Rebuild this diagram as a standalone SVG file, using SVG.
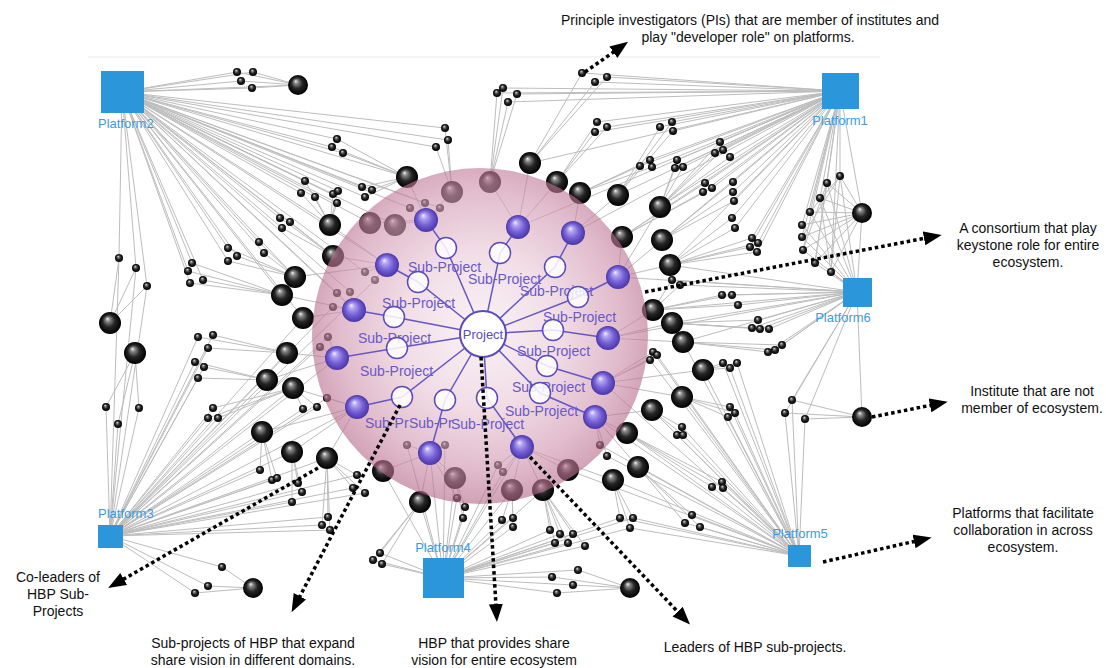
<svg xmlns="http://www.w3.org/2000/svg" width="1106" height="668" viewBox="0 0 1106 668">
<style>
#connectors path{stroke:#bdbdbd;stroke-width:1;fill:none}
#spokes path{stroke:#6657c4;stroke-width:1.5;fill:none}
.bk{fill:url(#gk)}
.pi{fill:url(#gk)}
.ld{fill:url(#gp)}
.sp{fill:#fff;fill-opacity:.85;stroke:#5a4cbc;stroke-width:1.5}
.spt{font-family:"Liberation Sans",Arial,sans-serif;font-size:14px;fill:#6a58c8}
.pl{fill:#2b96d9}
.plt{font-family:"Liberation Sans",Arial,sans-serif;font-size:13px;fill:#3d9be0}
.ann{stroke:#000;stroke-width:3.5;stroke-dasharray:3.5 3;fill:none;marker-end:url(#ah)}
.at{font-family:"Liberation Sans",Arial,sans-serif;font-size:14px;fill:#111;text-anchor:middle}
</style>
<defs>
<radialGradient id="gk" cx="0.5" cy="0.5" r="0.5" fx="0.38" fy="0.3">
<stop offset="0" stop-color="#f2f2f2"/><stop offset="0.2" stop-color="#8a8a8a"/><stop offset="0.55" stop-color="#262626"/><stop offset="1" stop-color="#000"/>
</radialGradient>
<radialGradient id="gp" cx="0.5" cy="0.5" r="0.5" fx="0.38" fy="0.3">
<stop offset="0" stop-color="#f4f0ff"/><stop offset="0.22" stop-color="#b3a6f0"/><stop offset="0.6" stop-color="#7560d6"/><stop offset="1" stop-color="#4a36a8"/>
</radialGradient>
<radialGradient id="gs" cx="0.5" cy="0.48" r="0.52">
<stop offset="0" stop-color="#f6eaf0"/><stop offset="0.45" stop-color="#e9c8d7"/><stop offset="0.8" stop-color="#cf93ad"/><stop offset="1" stop-color="#b56888"/>
</radialGradient>
<marker id="ah" markerUnits="userSpaceOnUse" markerWidth="20" markerHeight="16" refX="2" refY="7" orient="auto"><path d="M0,0 L18,7 L0,14 z" fill="#000"/></marker>
</defs>
<rect width="1106" height="668" fill="#fff"/>
<path d="M88,57 H880" stroke="#e8e8e8" stroke-width="1"/>
<g id="connectors">
<path d="M122,92 237,72"/><path d="M122,92 253,72"/><path d="M122,92 241,81"/><path d="M122,92 252,88"/><path d="M122,92 298,85"/>
<path d="M122,92 337,139"/><path d="M122,92 332,147"/><path d="M122,92 343,153"/><path d="M122,92 305,181"/><path d="M122,92 301,193"/>
<path d="M122,92 315,197"/><path d="M122,92 333,194"/><path d="M122,92 338,191"/><path d="M122,92 337,203"/><path d="M122,92 362,187"/>
<path d="M122,92 372,190"/><path d="M122,92 365,197"/><path d="M122,92 280,218"/><path d="M122,92 290,222"/><path d="M122,92 282,228"/>
<path d="M122,92 259,242"/><path d="M122,92 264,253"/><path d="M122,92 228,248"/><path d="M122,92 237,256"/><path d="M122,92 228,261"/>
<path d="M122,92 192,263"/><path d="M122,92 188,271"/><path d="M122,92 190,283"/><path d="M122,92 203,280"/><path d="M122,92 119,258"/>
<path d="M122,92 136,268"/><path d="M122,92 147,286"/><path d="M122,92 445,128"/><path d="M122,92 448,140"/><path d="M122,92 436,147"/>
<path d="M122,92 410,208"/><path d="M122,92 425,203"/><path d="M122,92 440,208"/><path d="M122,92 407,177"/><path d="M122,92 330,225"/>
<path d="M122,92 333,256"/><path d="M122,92 295,277"/><path d="M122,92 282,295"/><path d="M122,92 303,318"/><path d="M122,92 370,223"/>
<path d="M122,92 395,225"/><path d="M122,92 365,272"/><path d="M122,92 337,293"/><path d="M122,92 350,292"/><path d="M122,92 387,265"/><path d="M122,92 354,310"/>
<path d="M840,91 582,73"/><path d="M840,91 595,82"/><path d="M840,91 607,77"/><path d="M840,91 497,93"/><path d="M840,91 503,88"/>
<path d="M840,91 517,94"/><path d="M840,91 508,102"/><path d="M840,91 597,122"/><path d="M840,91 607,127"/><path d="M840,91 595,132"/>
<path d="M840,91 660,127"/><path d="M840,91 672,122"/><path d="M840,91 673,131"/><path d="M840,91 640,166"/><path d="M840,91 650,160"/>
<path d="M840,91 652,167"/><path d="M840,91 677,160"/><path d="M840,91 675,168"/><path d="M840,91 683,167"/><path d="M840,91 720,142"/>
<path d="M840,91 715,153"/><path d="M840,91 723,150"/><path d="M840,91 730,157"/><path d="M840,91 705,183"/><path d="M840,91 712,188"/>
<path d="M840,91 703,192"/><path d="M840,91 733,182"/><path d="M840,91 733,192"/><path d="M840,91 734,201"/><path d="M840,91 732,218"/>
<path d="M840,91 735,228"/><path d="M840,91 752,238"/><path d="M840,91 758,243"/><path d="M840,91 750,247"/><path d="M840,91 757,252"/>
<path d="M840,91 840,176"/><path d="M840,91 827,183"/><path d="M840,91 820,198"/><path d="M840,91 810,212"/><path d="M840,91 802,225"/>
<path d="M840,91 802,237"/><path d="M840,91 803,250"/><path d="M840,91 815,263"/><path d="M840,91 831,272"/><path d="M840,91 862,213"/>
<path d="M840,91 530,163"/><path d="M840,91 618,195"/><path d="M840,91 660,207"/><path d="M840,91 622,237"/><path d="M840,91 662,240"/>
<path d="M840,91 670,265"/><path d="M840,91 518,227"/><path d="M840,91 573,233"/>
<path d="M862,213 840,176"/><path d="M862,213 827,183"/><path d="M862,213 820,198"/><path d="M862,213 810,212"/><path d="M862,213 802,225"/>
<path d="M862,213 802,237"/><path d="M862,213 803,250"/><path d="M862,213 815,263"/><path d="M862,213 831,272"/>
<path d="M857,292 840,176"/><path d="M857,292 827,183"/><path d="M857,292 820,198"/><path d="M857,292 810,212"/><path d="M857,292 802,225"/>
<path d="M857,292 802,237"/><path d="M857,292 803,250"/><path d="M857,292 815,263"/><path d="M857,292 831,272"/>
<path d="M840,176 831,272"/><path d="M827,183 815,263"/><path d="M820,198 831,272"/><path d="M810,212 840,176"/><path d="M840,176 802,237"/><path d="M827,183 803,250"/>
<path d="M857,292 672,280"/><path d="M857,292 680,285"/><path d="M857,292 722,295"/><path d="M857,292 732,295"/><path d="M857,292 738,305"/>
<path d="M857,292 758,320"/><path d="M857,292 752,328"/><path d="M857,292 760,329"/><path d="M857,292 769,329"/><path d="M857,292 768,352"/>
<path d="M857,292 775,350"/><path d="M857,292 782,345"/><path d="M857,292 670,265"/><path d="M857,292 653,310"/><path d="M857,292 672,323"/>
<path d="M857,292 683,342"/><path d="M857,292 792,400"/><path d="M857,292 785,413"/><path d="M857,292 805,419"/><path d="M857,292 862,417"/>
<path d="M857,292 862,213"/><path d="M857,292 618,277"/><path d="M857,292 608,338"/>
<path d="M799,556 792,400"/><path d="M799,556 785,413"/><path d="M799,556 805,419"/><path d="M799,556 723,363"/><path d="M799,556 730,368"/>
<path d="M799,556 737,363"/><path d="M799,556 730,407"/><path d="M799,556 735,413"/><path d="M799,556 728,417"/><path d="M799,556 682,427"/>
<path d="M799,556 677,435"/><path d="M799,556 683,435"/><path d="M799,556 653,352"/><path d="M799,556 650,360"/><path d="M799,556 657,355"/>
<path d="M799,556 722,482"/><path d="M799,556 712,487"/><path d="M799,556 723,488"/><path d="M799,556 692,515"/><path d="M799,556 685,523"/>
<path d="M799,556 700,527"/><path d="M799,556 620,518"/><path d="M799,556 633,518"/><path d="M799,556 630,528"/><path d="M799,556 607,456"/>
<path d="M799,556 600,445"/><path d="M799,556 683,342"/><path d="M799,556 703,370"/><path d="M799,556 682,397"/><path d="M799,556 652,410"/>
<path d="M799,556 627,433"/><path d="M799,556 638,467"/><path d="M799,556 613,480"/><path d="M799,556 603,383"/><path d="M799,556 595,417"/><path d="M799,556 568,470"/>
<path d="M443,578 373,560"/><path d="M443,578 380,553"/><path d="M443,578 382,564"/><path d="M443,578 465,507"/><path d="M443,578 463,518"/>
<path d="M443,578 502,520"/><path d="M443,578 513,518"/><path d="M443,578 513,527"/><path d="M443,578 550,530"/><path d="M443,578 560,534"/>
<path d="M443,578 573,534"/><path d="M443,578 555,543"/><path d="M443,578 568,543"/><path d="M443,578 585,546"/><path d="M443,578 578,570"/>
<path d="M443,578 552,577"/><path d="M443,578 573,585"/><path d="M443,578 557,593"/><path d="M443,578 620,518"/><path d="M443,578 633,518"/>
<path d="M443,578 630,528"/><path d="M443,578 420,502"/><path d="M443,578 383,471"/><path d="M443,578 543,490"/><path d="M443,578 455,478"/>
<path d="M443,578 512,490"/><path d="M443,578 430,453"/><path d="M443,578 522,447"/><path d="M443,578 407,445"/><path d="M443,578 445,445"/>
<path d="M443,578 498,465"/><path d="M443,578 457,498"/><path d="M443,578 503,472"/>
<path d="M110,536 119,258"/><path d="M110,536 136,268"/><path d="M110,536 147,286"/><path d="M110,536 106,407"/><path d="M110,536 139,408"/>
<path d="M110,536 118,424"/><path d="M110,536 198,337"/><path d="M110,536 213,335"/><path d="M110,536 208,348"/><path d="M110,536 195,362"/>
<path d="M110,536 204,367"/><path d="M110,536 198,378"/><path d="M110,536 213,408"/><path d="M110,536 208,418"/><path d="M110,536 218,418"/>
<path d="M110,536 303,409"/><path d="M110,536 317,407"/><path d="M110,536 260,470"/><path d="M110,536 272,480"/><path d="M110,536 277,478"/>
<path d="M110,536 298,483"/><path d="M110,536 302,492"/><path d="M110,536 292,502"/><path d="M110,536 328,517"/><path d="M110,536 322,525"/>
<path d="M110,536 330,530"/><path d="M110,536 222,567"/><path d="M110,536 208,586"/><path d="M110,536 195,593"/><path d="M110,536 357,475"/>
<path d="M110,536 353,488"/><path d="M110,536 365,493"/><path d="M110,536 303,318"/><path d="M110,536 287,353"/><path d="M110,536 267,380"/>
<path d="M110,536 293,388"/><path d="M110,536 262,432"/><path d="M110,536 292,452"/><path d="M110,536 327,458"/><path d="M110,536 337,358"/>
<path d="M110,536 357,407"/><path d="M110,536 333,307"/><path d="M110,536 320,347"/><path d="M110,536 328,337"/><path d="M110,536 327,398"/><path d="M110,536 375,280"/>
<path d="M298,85 237,72"/><path d="M298,85 253,72"/><path d="M298,85 241,81"/><path d="M298,85 252,88"/>
<path d="M407,177 337,139"/><path d="M407,177 332,147"/><path d="M407,177 343,153"/><path d="M407,177 362,187"/><path d="M407,177 372,190"/><path d="M407,177 365,197"/>
<path d="M330,225 305,181"/><path d="M330,225 301,193"/><path d="M330,225 315,197"/><path d="M330,225 333,194"/><path d="M330,225 338,191"/><path d="M330,225 337,203"/>
<path d="M333,256 280,218"/><path d="M333,256 290,222"/><path d="M333,256 282,228"/>
<path d="M295,277 259,242"/><path d="M295,277 264,253"/><path d="M295,277 228,248"/><path d="M295,277 237,256"/><path d="M295,277 228,261"/>
<path d="M282,295 192,263"/><path d="M282,295 188,271"/><path d="M282,295 190,283"/><path d="M282,295 203,280"/>
<path d="M110,323 119,258"/><path d="M110,323 136,268"/><path d="M110,323 147,286"/>
<path d="M135,353 106,407"/><path d="M135,353 139,408"/><path d="M135,353 118,424"/>
<path d="M287,353 198,337"/><path d="M287,353 213,335"/><path d="M287,353 208,348"/>
<path d="M267,380 195,362"/><path d="M267,380 204,367"/><path d="M267,380 198,378"/>
<path d="M293,388 213,408"/><path d="M293,388 208,418"/><path d="M293,388 218,418"/><path d="M293,388 303,409"/><path d="M293,388 317,407"/>
<path d="M262,432 260,470"/><path d="M262,432 272,480"/><path d="M262,432 277,478"/>
<path d="M292,452 298,483"/><path d="M292,452 302,492"/><path d="M292,452 292,502"/>
<path d="M327,458 328,517"/><path d="M327,458 322,525"/><path d="M327,458 330,530"/><path d="M327,458 357,475"/><path d="M327,458 353,488"/><path d="M327,458 365,493"/>
<path d="M253,588 222,567"/><path d="M253,588 208,586"/><path d="M253,588 195,593"/>
<path d="M420,502 373,560"/><path d="M420,502 380,553"/><path d="M420,502 382,564"/>
<path d="M455,478 465,507"/><path d="M455,478 463,518"/>
<path d="M512,490 502,520"/><path d="M512,490 513,518"/><path d="M512,490 513,527"/>
<path d="M543,490 550,530"/><path d="M543,490 560,534"/><path d="M543,490 573,534"/><path d="M543,490 555,543"/><path d="M543,490 568,543"/><path d="M543,490 585,546"/>
<path d="M630,588 578,570"/><path d="M630,588 552,577"/><path d="M630,588 573,585"/><path d="M630,588 557,593"/>
<path d="M613,480 620,518"/><path d="M613,480 633,518"/><path d="M613,480 630,528"/>
<path d="M653,310 722,295"/><path d="M653,310 732,295"/><path d="M653,310 738,305"/><path d="M653,310 672,280"/><path d="M653,310 680,285"/>
<path d="M672,323 758,320"/><path d="M672,323 752,328"/><path d="M672,323 760,329"/><path d="M672,323 769,329"/>
<path d="M683,342 768,352"/><path d="M683,342 775,350"/><path d="M683,342 782,345"/>
<path d="M703,370 723,363"/><path d="M703,370 730,368"/><path d="M703,370 737,363"/>
<path d="M682,397 730,407"/><path d="M682,397 735,413"/><path d="M682,397 728,417"/>
<path d="M652,410 682,427"/><path d="M652,410 677,435"/><path d="M652,410 683,435"/>
<path d="M627,433 722,482"/><path d="M627,433 712,487"/><path d="M627,433 723,488"/>
<path d="M638,467 692,515"/><path d="M638,467 685,523"/><path d="M638,467 700,527"/>
<path d="M862,417 792,400"/><path d="M862,417 785,413"/><path d="M862,417 805,419"/>
<path d="M622,237 705,183"/><path d="M622,237 712,188"/><path d="M622,237 703,192"/>
<path d="M662,240 733,182"/><path d="M662,240 733,192"/><path d="M662,240 734,201"/>
<path d="M670,265 732,218"/><path d="M670,265 735,228"/><path d="M670,265 752,238"/><path d="M670,265 758,243"/><path d="M670,265 750,247"/><path d="M670,265 757,252"/>
<path d="M660,207 720,142"/><path d="M660,207 715,153"/><path d="M660,207 723,150"/><path d="M660,207 730,157"/><path d="M660,207 677,160"/><path d="M660,207 675,168"/><path d="M660,207 683,167"/>
<path d="M490,182 497,93"/><path d="M490,182 503,88"/><path d="M490,182 517,94"/><path d="M490,182 508,102"/>
<path d="M530,163 582,73"/><path d="M530,163 595,82"/><path d="M530,163 607,77"/>
<path d="M452,192 445,128"/><path d="M452,192 448,140"/><path d="M452,192 436,147"/>
<path d="M557,182 597,122"/><path d="M557,182 607,127"/><path d="M557,182 595,132"/>
<path d="M618,195 660,127"/><path d="M618,195 672,122"/><path d="M618,195 673,131"/>
<path d="M580,193 640,166"/><path d="M580,193 650,160"/><path d="M580,193 652,167"/>
<path d="M407,177 426,220"/><path d="M452,192 426,220"/><path d="M370,223 426,220"/><path d="M395,225 426,220"/>
<path d="M490,182 518,227"/><path d="M530,163 518,227"/><path d="M557,182 518,227"/>
<path d="M580,193 573,233"/><path d="M618,195 573,233"/>
<path d="M660,207 618,277"/><path d="M622,237 618,277"/><path d="M662,240 618,277"/><path d="M670,265 618,277"/>
<path d="M653,310 608,338"/><path d="M672,323 608,338"/><path d="M683,342 608,338"/>
<path d="M703,370 603,383"/><path d="M682,397 603,383"/>
<path d="M652,410 595,417"/><path d="M627,433 595,417"/><path d="M638,467 595,417"/>
<path d="M613,480 522,447"/><path d="M568,470 522,447"/><path d="M543,490 522,447"/><path d="M512,490 522,447"/>
<path d="M455,478 430,453"/><path d="M420,502 430,453"/><path d="M383,471 430,453"/>
<path d="M327,458 357,407"/><path d="M292,452 357,407"/><path d="M262,432 357,407"/><path d="M293,388 357,407"/>
<path d="M267,380 337,358"/><path d="M287,353 337,358"/>
<path d="M303,318 354,310"/><path d="M282,295 354,310"/>
<path d="M295,277 387,265"/><path d="M333,256 387,265"/><path d="M330,225 387,265"/>
<path d="M410,208 426,220"/><path d="M425,203 426,220"/><path d="M440,208 426,220"/>
<path d="M365,272 387,265"/><path d="M375,280 387,265"/>
<path d="M337,293 354,310"/><path d="M350,292 354,310"/><path d="M333,307 354,310"/>
<path d="M320,347 337,358"/><path d="M328,337 337,358"/><path d="M327,398 357,407"/>
<path d="M407,445 430,453"/><path d="M445,445 430,453"/><path d="M457,498 430,453"/>
<path d="M498,465 522,447"/><path d="M503,472 522,447"/>
<path d="M600,445 595,417"/><path d="M607,456 595,417"/>
<path d="M653,352 603,383"/><path d="M650,360 603,383"/><path d="M657,355 603,383"/>
</g>
<g id="institutes">
<g id="institute-1"><circle class="bk" cx="298" cy="85" r="10"/></g>
<g id="institute-2"><circle class="bk" cx="407" cy="177" r="11"/></g>
<g id="institute-3"><circle class="bk" cx="530" cy="163" r="11"/></g>
<g id="institute-4"><circle class="bk" cx="557" cy="182" r="11"/></g>
<g id="institute-5"><circle class="bk" cx="580" cy="193" r="11"/></g>
<g id="institute-6"><circle class="bk" cx="618" cy="195" r="11"/></g>
<g id="institute-7"><circle class="bk" cx="660" cy="207" r="11"/></g>
<g id="institute-8"><circle class="bk" cx="622" cy="237" r="11"/></g>
<g id="institute-9"><circle class="bk" cx="662" cy="240" r="11"/></g>
<g id="institute-10"><circle class="bk" cx="670" cy="265" r="11"/></g>
<g id="institute-11"><circle class="bk" cx="653" cy="310" r="11"/></g>
<g id="institute-12"><circle class="bk" cx="672" cy="323" r="11"/></g>
<g id="institute-13"><circle class="bk" cx="683" cy="342" r="11"/></g>
<g id="institute-14"><circle class="bk" cx="703" cy="370" r="11"/></g>
<g id="institute-15"><circle class="bk" cx="682" cy="397" r="11"/></g>
<g id="institute-16"><circle class="bk" cx="652" cy="410" r="11"/></g>
<g id="institute-17"><circle class="bk" cx="627" cy="433" r="11"/></g>
<g id="institute-18"><circle class="bk" cx="638" cy="467" r="11"/></g>
<g id="institute-19"><circle class="bk" cx="613" cy="480" r="11"/></g>
<g id="institute-20"><circle class="bk" cx="630" cy="588" r="10"/></g>
<g id="institute-21"><circle class="bk" cx="862" cy="213" r="10"/></g>
<g id="institute-22"><circle class="bk" cx="862" cy="417" r="10"/></g>
<g id="institute-23"><circle class="bk" cx="420" cy="502" r="11"/></g>
<g id="institute-24"><circle class="bk" cx="383" cy="471" r="11"/></g>
<g id="institute-25"><circle class="bk" cx="543" cy="490" r="11"/></g>
<g id="institute-26"><circle class="bk" cx="330" cy="225" r="11"/></g>
<g id="institute-27"><circle class="bk" cx="333" cy="256" r="11"/></g>
<g id="institute-28"><circle class="bk" cx="295" cy="277" r="11"/></g>
<g id="institute-29"><circle class="bk" cx="282" cy="295" r="11"/></g>
<g id="institute-30"><circle class="bk" cx="303" cy="318" r="11"/></g>
<g id="institute-31"><circle class="bk" cx="287" cy="353" r="11"/></g>
<g id="institute-32"><circle class="bk" cx="267" cy="380" r="11"/></g>
<g id="institute-33"><circle class="bk" cx="293" cy="388" r="11"/></g>
<g id="institute-34"><circle class="bk" cx="262" cy="432" r="11"/></g>
<g id="institute-35"><circle class="bk" cx="292" cy="452" r="11"/></g>
<g id="institute-36"><circle class="bk" cx="327" cy="458" r="11"/></g>
<g id="institute-37"><circle class="bk" cx="110" cy="323" r="11"/></g>
<g id="institute-38"><circle class="bk" cx="135" cy="353" r="11"/></g>
<g id="institute-39"><circle class="bk" cx="253" cy="588" r="10"/></g>
<g id="institute-40"><circle class="bk" cx="452" cy="192" r="11"/></g>
<g id="institute-41"><circle class="bk" cx="490" cy="182" r="11"/></g>
<g id="institute-42"><circle class="bk" cx="370" cy="223" r="11"/></g>
<g id="institute-43"><circle class="bk" cx="395" cy="225" r="11"/></g>
<g id="institute-44"><circle class="bk" cx="455" cy="478" r="11"/></g>
<g id="institute-45"><circle class="bk" cx="512" cy="490" r="11"/></g>
<g id="institute-46"><circle class="bk" cx="568" cy="470" r="11"/></g>
</g>
<g id="investigators">
<g id="pi-1"><circle class="pi" cx="237" cy="72" r="4"/></g><g id="pi-2"><circle class="pi" cx="253" cy="72" r="4"/></g><g id="pi-3"><circle class="pi" cx="241" cy="81" r="4"/></g><g id="pi-4"><circle class="pi" cx="252" cy="88" r="4"/></g>
<g id="pi-5"><circle class="pi" cx="337" cy="139" r="4"/></g><g id="pi-6"><circle class="pi" cx="332" cy="147" r="4"/></g><g id="pi-7"><circle class="pi" cx="343" cy="153" r="4"/></g>
<g id="pi-8"><circle class="pi" cx="305" cy="181" r="4"/></g><g id="pi-9"><circle class="pi" cx="301" cy="193" r="4"/></g><g id="pi-10"><circle class="pi" cx="315" cy="197" r="4"/></g>
<g id="pi-11"><circle class="pi" cx="333" cy="194" r="4"/></g><g id="pi-12"><circle class="pi" cx="338" cy="191" r="4"/></g><g id="pi-13"><circle class="pi" cx="337" cy="203" r="4"/></g>
<g id="pi-14"><circle class="pi" cx="362" cy="187" r="4"/></g><g id="pi-15"><circle class="pi" cx="372" cy="190" r="4"/></g><g id="pi-16"><circle class="pi" cx="365" cy="197" r="4"/></g>
<g id="pi-17"><circle class="pi" cx="280" cy="218" r="4"/></g><g id="pi-18"><circle class="pi" cx="290" cy="222" r="4"/></g><g id="pi-19"><circle class="pi" cx="282" cy="228" r="4"/></g>
<g id="pi-20"><circle class="pi" cx="259" cy="242" r="4"/></g><g id="pi-21"><circle class="pi" cx="264" cy="253" r="4"/></g>
<g id="pi-22"><circle class="pi" cx="228" cy="248" r="4"/></g><g id="pi-23"><circle class="pi" cx="237" cy="256" r="4"/></g><g id="pi-24"><circle class="pi" cx="228" cy="261" r="4"/></g>
<g id="pi-25"><circle class="pi" cx="192" cy="263" r="4"/></g><g id="pi-26"><circle class="pi" cx="188" cy="271" r="4"/></g><g id="pi-27"><circle class="pi" cx="190" cy="283" r="4"/></g><g id="pi-28"><circle class="pi" cx="203" cy="280" r="4"/></g>
<g id="pi-29"><circle class="pi" cx="119" cy="258" r="4"/></g><g id="pi-30"><circle class="pi" cx="136" cy="268" r="4"/></g><g id="pi-31"><circle class="pi" cx="147" cy="286" r="4"/></g>
<g id="pi-32"><circle class="pi" cx="106" cy="407" r="4"/></g><g id="pi-33"><circle class="pi" cx="139" cy="408" r="4"/></g><g id="pi-34"><circle class="pi" cx="118" cy="424" r="4"/></g>
<g id="pi-35"><circle class="pi" cx="198" cy="337" r="4"/></g><g id="pi-36"><circle class="pi" cx="213" cy="335" r="4"/></g><g id="pi-37"><circle class="pi" cx="208" cy="348" r="4"/></g>
<g id="pi-38"><circle class="pi" cx="195" cy="362" r="4"/></g><g id="pi-39"><circle class="pi" cx="204" cy="367" r="4"/></g><g id="pi-40"><circle class="pi" cx="198" cy="378" r="4"/></g>
<g id="pi-41"><circle class="pi" cx="213" cy="408" r="4"/></g><g id="pi-42"><circle class="pi" cx="208" cy="418" r="4"/></g><g id="pi-43"><circle class="pi" cx="218" cy="418" r="4"/></g>
<g id="pi-44"><circle class="pi" cx="303" cy="409" r="4"/></g><g id="pi-45"><circle class="pi" cx="317" cy="407" r="4"/></g>
<g id="pi-46"><circle class="pi" cx="260" cy="470" r="4"/></g><g id="pi-47"><circle class="pi" cx="272" cy="480" r="4"/></g><g id="pi-48"><circle class="pi" cx="277" cy="478" r="4"/></g>
<g id="pi-49"><circle class="pi" cx="298" cy="483" r="4"/></g><g id="pi-50"><circle class="pi" cx="302" cy="492" r="4"/></g><g id="pi-51"><circle class="pi" cx="292" cy="502" r="4"/></g>
<g id="pi-52"><circle class="pi" cx="328" cy="517" r="4"/></g><g id="pi-53"><circle class="pi" cx="322" cy="525" r="4"/></g><g id="pi-54"><circle class="pi" cx="330" cy="530" r="4"/></g>
<g id="pi-55"><circle class="pi" cx="222" cy="567" r="4"/></g><g id="pi-56"><circle class="pi" cx="208" cy="586" r="4"/></g><g id="pi-57"><circle class="pi" cx="195" cy="593" r="4"/></g>
<g id="pi-58"><circle class="pi" cx="357" cy="475" r="4"/></g><g id="pi-59"><circle class="pi" cx="353" cy="488" r="4"/></g><g id="pi-60"><circle class="pi" cx="365" cy="493" r="4"/></g>
<g id="pi-61"><circle class="pi" cx="373" cy="560" r="4"/></g><g id="pi-62"><circle class="pi" cx="380" cy="553" r="4"/></g><g id="pi-63"><circle class="pi" cx="382" cy="564" r="4"/></g>
<g id="pi-64"><circle class="pi" cx="465" cy="507" r="4"/></g><g id="pi-65"><circle class="pi" cx="463" cy="518" r="4"/></g>
<g id="pi-66"><circle class="pi" cx="502" cy="520" r="4"/></g><g id="pi-67"><circle class="pi" cx="513" cy="518" r="4"/></g><g id="pi-68"><circle class="pi" cx="513" cy="527" r="4"/></g>
<g id="pi-69"><circle class="pi" cx="550" cy="530" r="4"/></g><g id="pi-70"><circle class="pi" cx="560" cy="534" r="4"/></g><g id="pi-71"><circle class="pi" cx="573" cy="534" r="4"/></g>
<g id="pi-72"><circle class="pi" cx="555" cy="543" r="4"/></g><g id="pi-73"><circle class="pi" cx="568" cy="543" r="4"/></g><g id="pi-74"><circle class="pi" cx="585" cy="546" r="4"/></g>
<g id="pi-75"><circle class="pi" cx="578" cy="570" r="4"/></g><g id="pi-76"><circle class="pi" cx="552" cy="577" r="4"/></g><g id="pi-77"><circle class="pi" cx="573" cy="585" r="4"/></g><g id="pi-78"><circle class="pi" cx="557" cy="593" r="4"/></g>
<g id="pi-79"><circle class="pi" cx="620" cy="518" r="4"/></g><g id="pi-80"><circle class="pi" cx="633" cy="518" r="4"/></g><g id="pi-81"><circle class="pi" cx="630" cy="528" r="4"/></g>
<g id="pi-82"><circle class="pi" cx="607" cy="456" r="4"/></g>
<g id="pi-83"><circle class="pi" cx="722" cy="295" r="4"/></g><g id="pi-84"><circle class="pi" cx="732" cy="295" r="4"/></g><g id="pi-85"><circle class="pi" cx="738" cy="305" r="4"/></g>
<g id="pi-86"><circle class="pi" cx="758" cy="320" r="4"/></g><g id="pi-87"><circle class="pi" cx="752" cy="328" r="4"/></g><g id="pi-88"><circle class="pi" cx="760" cy="329" r="4"/></g><g id="pi-89"><circle class="pi" cx="769" cy="329" r="4"/></g>
<g id="pi-90"><circle class="pi" cx="768" cy="352" r="4"/></g><g id="pi-91"><circle class="pi" cx="775" cy="350" r="4"/></g><g id="pi-92"><circle class="pi" cx="782" cy="345" r="4"/></g>
<g id="pi-93"><circle class="pi" cx="723" cy="363" r="4"/></g><g id="pi-94"><circle class="pi" cx="730" cy="368" r="4"/></g><g id="pi-95"><circle class="pi" cx="737" cy="363" r="4"/></g>
<g id="pi-96"><circle class="pi" cx="730" cy="407" r="4"/></g><g id="pi-97"><circle class="pi" cx="735" cy="413" r="4"/></g><g id="pi-98"><circle class="pi" cx="728" cy="417" r="4"/></g>
<g id="pi-99"><circle class="pi" cx="682" cy="427" r="4"/></g><g id="pi-100"><circle class="pi" cx="677" cy="435" r="4"/></g><g id="pi-101"><circle class="pi" cx="683" cy="435" r="4"/></g>
<g id="pi-102"><circle class="pi" cx="653" cy="352" r="4"/></g><g id="pi-103"><circle class="pi" cx="650" cy="360" r="4"/></g><g id="pi-104"><circle class="pi" cx="657" cy="355" r="4"/></g>
<g id="pi-105"><circle class="pi" cx="792" cy="400" r="4"/></g><g id="pi-106"><circle class="pi" cx="785" cy="413" r="4"/></g><g id="pi-107"><circle class="pi" cx="805" cy="419" r="4"/></g>
<g id="pi-108"><circle class="pi" cx="722" cy="482" r="4"/></g><g id="pi-109"><circle class="pi" cx="712" cy="487" r="4"/></g><g id="pi-110"><circle class="pi" cx="723" cy="488" r="4"/></g>
<g id="pi-111"><circle class="pi" cx="692" cy="515" r="4"/></g><g id="pi-112"><circle class="pi" cx="685" cy="523" r="4"/></g><g id="pi-113"><circle class="pi" cx="700" cy="527" r="4"/></g>
<g id="pi-114"><circle class="pi" cx="705" cy="183" r="4"/></g><g id="pi-115"><circle class="pi" cx="712" cy="188" r="4"/></g><g id="pi-116"><circle class="pi" cx="703" cy="192" r="4"/></g>
<g id="pi-117"><circle class="pi" cx="733" cy="182" r="4"/></g><g id="pi-118"><circle class="pi" cx="733" cy="192" r="4"/></g><g id="pi-119"><circle class="pi" cx="734" cy="201" r="4"/></g>
<g id="pi-120"><circle class="pi" cx="732" cy="218" r="4"/></g><g id="pi-121"><circle class="pi" cx="735" cy="228" r="4"/></g>
<g id="pi-122"><circle class="pi" cx="752" cy="238" r="4"/></g><g id="pi-123"><circle class="pi" cx="758" cy="243" r="4"/></g><g id="pi-124"><circle class="pi" cx="750" cy="247" r="4"/></g><g id="pi-125"><circle class="pi" cx="757" cy="252" r="4"/></g>
<g id="pi-126"><circle class="pi" cx="840" cy="176" r="4"/></g><g id="pi-127"><circle class="pi" cx="827" cy="183" r="4"/></g><g id="pi-128"><circle class="pi" cx="820" cy="198" r="4"/></g>
<g id="pi-129"><circle class="pi" cx="810" cy="212" r="4"/></g><g id="pi-130"><circle class="pi" cx="802" cy="225" r="4"/></g><g id="pi-131"><circle class="pi" cx="802" cy="237" r="4"/></g>
<g id="pi-132"><circle class="pi" cx="803" cy="250" r="4"/></g><g id="pi-133"><circle class="pi" cx="815" cy="263" r="4"/></g><g id="pi-134"><circle class="pi" cx="831" cy="272" r="4"/></g>
<g id="pi-135"><circle class="pi" cx="672" cy="280" r="4"/></g><g id="pi-136"><circle class="pi" cx="680" cy="285" r="4"/></g>
<g id="pi-137"><circle class="pi" cx="720" cy="142" r="4"/></g><g id="pi-138"><circle class="pi" cx="715" cy="153" r="4"/></g><g id="pi-139"><circle class="pi" cx="723" cy="150" r="4"/></g><g id="pi-140"><circle class="pi" cx="730" cy="157" r="4"/></g>
<g id="pi-141"><circle class="pi" cx="497" cy="93" r="4"/></g><g id="pi-142"><circle class="pi" cx="503" cy="88" r="4"/></g><g id="pi-143"><circle class="pi" cx="517" cy="94" r="4"/></g><g id="pi-144"><circle class="pi" cx="508" cy="102" r="4"/></g>
<g id="pi-145"><circle class="pi" cx="582" cy="73" r="4"/></g><g id="pi-146"><circle class="pi" cx="595" cy="82" r="4"/></g><g id="pi-147"><circle class="pi" cx="607" cy="77" r="4"/></g>
<g id="pi-148"><circle class="pi" cx="445" cy="128" r="4"/></g><g id="pi-149"><circle class="pi" cx="448" cy="140" r="4"/></g><g id="pi-150"><circle class="pi" cx="436" cy="147" r="4"/></g>
<g id="pi-151"><circle class="pi" cx="597" cy="122" r="4"/></g><g id="pi-152"><circle class="pi" cx="607" cy="127" r="4"/></g><g id="pi-153"><circle class="pi" cx="595" cy="132" r="4"/></g>
<g id="pi-154"><circle class="pi" cx="660" cy="127" r="4"/></g><g id="pi-155"><circle class="pi" cx="672" cy="122" r="4"/></g><g id="pi-156"><circle class="pi" cx="673" cy="131" r="4"/></g>
<g id="pi-157"><circle class="pi" cx="640" cy="166" r="4"/></g><g id="pi-158"><circle class="pi" cx="650" cy="160" r="4"/></g><g id="pi-159"><circle class="pi" cx="652" cy="167" r="4"/></g>
<g id="pi-160"><circle class="pi" cx="677" cy="160" r="4"/></g><g id="pi-161"><circle class="pi" cx="675" cy="168" r="4"/></g><g id="pi-162"><circle class="pi" cx="683" cy="167" r="4"/></g>
<g id="pi-163"><circle class="pi" cx="410" cy="208" r="4"/></g><g id="pi-164"><circle class="pi" cx="425" cy="203" r="4"/></g><g id="pi-165"><circle class="pi" cx="440" cy="208" r="4"/></g>
<g id="pi-166"><circle class="pi" cx="365" cy="272" r="4"/></g><g id="pi-167"><circle class="pi" cx="375" cy="280" r="4"/></g>
<g id="pi-168"><circle class="pi" cx="337" cy="293" r="4"/></g><g id="pi-169"><circle class="pi" cx="350" cy="292" r="4"/></g><g id="pi-170"><circle class="pi" cx="333" cy="307" r="4"/></g>
<g id="pi-171"><circle class="pi" cx="320" cy="347" r="4"/></g><g id="pi-172"><circle class="pi" cx="328" cy="337" r="4"/></g><g id="pi-173"><circle class="pi" cx="327" cy="398" r="4"/></g>
<g id="pi-174"><circle class="pi" cx="407" cy="445" r="4"/></g><g id="pi-175"><circle class="pi" cx="445" cy="445" r="4"/></g>
<g id="pi-176"><circle class="pi" cx="498" cy="465" r="4"/></g><g id="pi-177"><circle class="pi" cx="503" cy="472" r="4"/></g><g id="pi-178"><circle class="pi" cx="457" cy="498" r="4"/></g>
<g id="pi-179"><circle class="pi" cx="600" cy="445" r="4"/></g>
</g>
<g id="hbp-consortium"><circle cx="480" cy="336" r="168" fill="url(#gs)" fill-opacity="0.62"/></g>
<g id="spokes">
<path d="M483,334 446,248 426,220"/><path d="M483,334 500,253 518,227"/><path d="M483,334 555,267 573,233"/>
<path d="M483,334 418,282 387,265"/><path d="M483,334 578,297 618,277"/><path d="M483,334 394,317 354,310"/>
<path d="M483,334 553,330 608,338"/><path d="M483,334 397,348 337,358"/><path d="M483,334 547,366 603,383"/>
<path d="M483,334 402,397 357,407"/><path d="M483,334 540,393 595,417"/><path d="M483,334 445,400 430,453"/>
<path d="M483,334 487,398 522,447"/>
</g>
<g id="leaders">
<g id="leader-1"><circle class="ld" cx="426" cy="220" r="12"/></g>
<g id="leader-2"><circle class="ld" cx="518" cy="227" r="12"/></g>
<g id="leader-3"><circle class="ld" cx="573" cy="233" r="12"/></g>
<g id="leader-4"><circle class="ld" cx="387" cy="265" r="12"/></g>
<g id="leader-5"><circle class="ld" cx="618" cy="277" r="12"/></g>
<g id="leader-6"><circle class="ld" cx="354" cy="310" r="12"/></g>
<g id="leader-7"><circle class="ld" cx="608" cy="338" r="12"/></g>
<g id="leader-8"><circle class="ld" cx="337" cy="358" r="12"/></g>
<g id="leader-9"><circle class="ld" cx="603" cy="383" r="12"/></g>
<g id="leader-10"><circle class="ld" cx="357" cy="407" r="12"/></g>
<g id="leader-11"><circle class="ld" cx="595" cy="417" r="12"/></g>
<g id="leader-12"><circle class="ld" cx="430" cy="453" r="12"/></g>
<g id="leader-13"><circle class="ld" cx="522" cy="447" r="12"/></g>
</g>
<g id="sub-projects">
<g id="subproject-1"><circle class="sp" cx="446" cy="248" r="10.5"/><text class="spt" x="408" y="272">Sub-Project</text></g>
<g id="subproject-2"><circle class="sp" cx="500" cy="253" r="10.5"/><text class="spt" x="468" y="284">Sub-Project</text></g>
<g id="subproject-3"><circle class="sp" cx="555" cy="267" r="10.5"/><text class="spt" x="520" y="296">Sub-Project</text></g>
<g id="subproject-4"><circle class="sp" cx="418" cy="282" r="10.5"/><text class="spt" x="382" y="308">Sub-Project</text></g>
<g id="subproject-5"><circle class="sp" cx="578" cy="297" r="10.5"/><text class="spt" x="543" y="322">Sub-Project</text></g>
<g id="subproject-6"><circle class="sp" cx="394" cy="317" r="10.5"/><text class="spt" x="358" y="343">Sub-Project</text></g>
<g id="subproject-7"><circle class="sp" cx="553" cy="330" r="10.5"/><text class="spt" x="517" y="356">Sub-Project</text></g>
<g id="subproject-8"><circle class="sp" cx="397" cy="348" r="10.5"/><text class="spt" x="360" y="376">Sub-Project</text></g>
<g id="subproject-9"><circle class="sp" cx="547" cy="366" r="10.5"/><text class="spt" x="512" y="392">Sub-Project</text></g>
<g id="subproject-10"><circle class="sp" cx="540" cy="393" r="10.5"/><text class="spt" x="505" y="416">Sub-Project</text></g>
<g id="subproject-11"><circle class="sp" cx="402" cy="397" r="10.5"/><text class="spt" x="365" y="428">Sub-Pr</text></g>
<g id="subproject-12"><circle class="sp" cx="445" cy="400" r="10.5"/><text class="spt" x="409" y="428">Sub-Pr</text></g>
<g id="subproject-13"><circle class="sp" cx="487" cy="398" r="10.5"/><text class="spt" x="451" y="429">Sub-Project</text></g>
</g>
<g id="project"><circle cx="483" cy="334" r="23" fill="#fff" stroke="#5a4cbc" stroke-width="2"/><text x="483" y="339" text-anchor="middle" font-family="Liberation Sans, Arial, sans-serif" font-size="13" fill="#5a4cbc">Project</text></g>
<g id="platforms">
<g id="platform-1"><rect class="pl" x="822" y="73" width="37" height="36"/><text class="plt" x="840" y="125" text-anchor="middle">Platform1</text></g>
<g id="platform-2"><rect class="pl" x="101" y="71" width="43" height="42"/><text class="plt" x="98" y="128">Platform2</text></g>
<g id="platform-3"><rect class="pl" x="98" y="525" width="25" height="23"/><text class="plt" x="98" y="518">Platform3</text></g>
<g id="platform-4"><rect class="pl" x="423" y="558" width="41" height="40"/><text class="plt" x="443" y="552" text-anchor="middle">Platform4</text></g>
<g id="platform-5"><rect class="pl" x="788" y="545" width="23" height="22"/><text class="plt" x="800" y="538" text-anchor="middle">Platform5</text></g>
<g id="platform-6"><rect class="pl" x="843" y="278" width="29" height="29"/><text class="plt" x="843" y="322" text-anchor="middle">Platform6</text></g>
</g>
<g id="annotations">
<path class="ann" d="M585,72 L615,51"/>
<path class="ann" d="M645,292 L926,238"/>
<path class="ann" d="M872,417 L932,405"/>
<path class="ann" d="M823,562 L916,541"/>
<path class="ann" d="M318,468 L122,580"/>
<path class="ann" d="M400,405 L299,598"/>
<path class="ann" d="M481,357 L496,606"/>
<path class="ann" d="M530,457 L679,613"/>
<text class="at" x="750" y="25">Principle investigators (PIs) that are member of institutes and</text>
<text class="at" x="748" y="42">play "developer role" on platforms.</text>
<text class="at" x="1028" y="233">A consortium that play</text>
<text class="at" x="1028" y="250">keystone role for entire</text>
<text class="at" x="1028" y="267">ecosystem.</text>
<text class="at" x="1032" y="396">Institute that are not</text>
<text class="at" x="1032" y="413">member of ecosystem.</text>
<text class="at" x="1023" y="518">Platforms that facilitate</text>
<text class="at" x="1023" y="535">collaboration in across</text>
<text class="at" x="1023" y="552">ecosystem.</text>
<text class="at" x="58" y="582">Co-leaders of</text>
<text class="at" x="58" y="599">HBP Sub-</text>
<text class="at" x="58" y="616">Projects</text>
<text class="at" x="253" y="648">Sub-projects of HBP that expand</text>
<text class="at" x="253" y="665">share vision in different domains.</text>
<text class="at" x="494" y="648">HBP that provides share</text>
<text class="at" x="494" y="665">vision for entire ecosystem</text>
<text class="at" x="755" y="652">Leaders of HBP sub-projects.</text>
</g>
</svg>
